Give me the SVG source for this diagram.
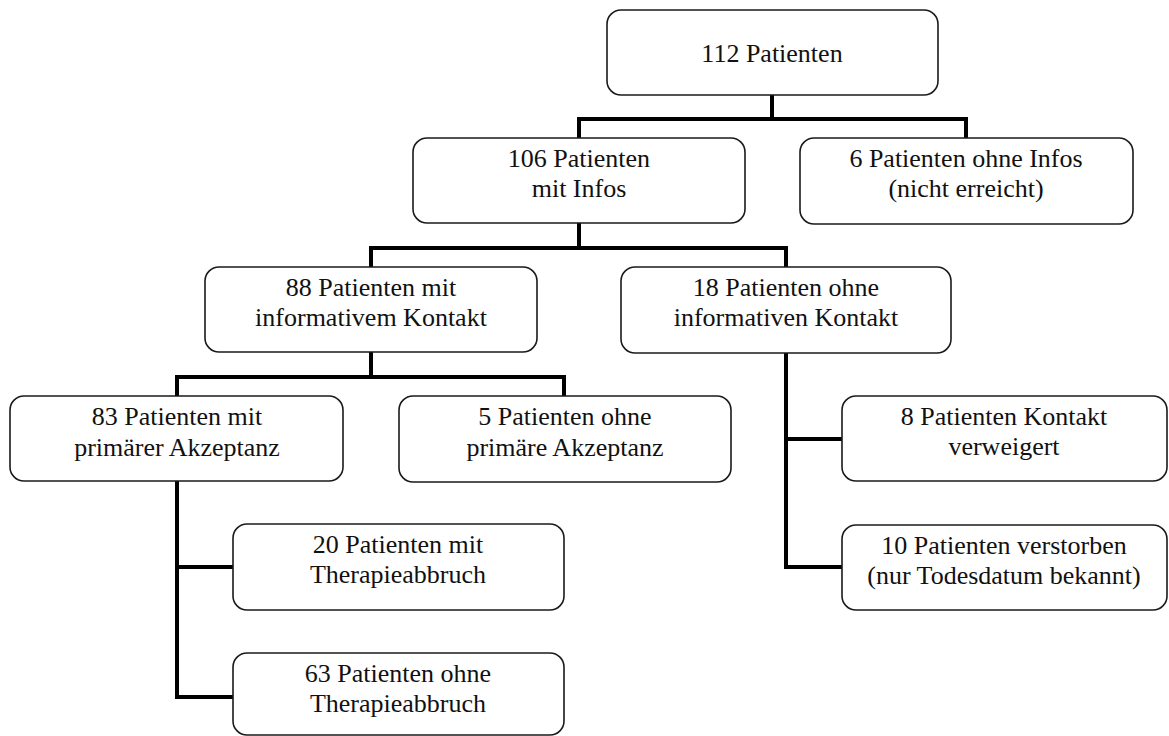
<svg xmlns="http://www.w3.org/2000/svg" width="1169" height="736" viewBox="0 0 1169 736">
<style>
.box{fill:#fff;stroke:#1a1a1a;stroke-width:1.6}
.t{font-size:26px;fill:#111;text-anchor:middle}
.c{fill:none;stroke:#000;stroke-width:4;stroke-linecap:square;stroke-linejoin:miter}
</style>
<rect width="1169" height="736" fill="#fff"/>
<g id="connectors">
<path class="c" d="M772 95V119M579 138V119H966V138"/>
<path class="c" d="M579 223V248M371 267V248H786V267"/>
<path class="c" d="M371 352V377M177 396V377H564V396"/>
<path class="c" d="M177 481V697H233M177 567H233"/>
<path class="c" d="M786 353V567H842M786 439H842"/>
</g>
<g font-family="Liberation Serif, Times New Roman, serif">
<g id="n112">
<rect class="box" x="607" y="10" width="331" height="85" rx="14"/>
<text class="t" x="772" y="62">112 Patienten</text>
</g>
<g id="n106">
<rect class="box" x="413" y="138" width="332" height="85" rx="14"/>
<text class="t" x="579" y="167">106 Patienten</text>
<text class="t" x="579" y="197">mit Infos</text>
</g>
<g id="n6">
<rect class="box" x="800" y="138" width="333" height="86" rx="14"/>
<text class="t" x="966" y="167">6 Patienten ohne Infos</text>
<text class="t" x="966" y="197">(nicht erreicht)</text>
</g>
<g id="n88">
<rect class="box" x="205" y="267" width="332" height="85" rx="14"/>
<text class="t" x="371" y="296">88 Patienten mit</text>
<text class="t" x="371" y="326">informativem Kontakt</text>
</g>
<g id="n18">
<rect class="box" x="621" y="267" width="330" height="86" rx="14"/>
<text class="t" x="786" y="296">18 Patienten ohne</text>
<text class="t" x="786" y="326">informativen Kontakt</text>
</g>
<g id="n83">
<rect class="box" x="10" y="396" width="333" height="85" rx="14"/>
<text class="t" x="177" y="425">83 Patienten mit</text>
<text class="t" x="177" y="456">primärer Akzeptanz</text>
</g>
<g id="n5">
<rect class="box" x="399" y="396" width="332" height="86" rx="14"/>
<text class="t" x="565" y="425">5 Patienten ohne</text>
<text class="t" x="565" y="456">primäre Akzeptanz</text>
</g>
<g id="n8">
<rect class="box" x="842" y="396" width="325" height="85" rx="14"/>
<text class="t" x="1004" y="425">8 Patienten Kontakt</text>
<text class="t" x="1004" y="455">verweigert</text>
</g>
<g id="n20">
<rect class="box" x="233" y="524" width="331" height="86" rx="14"/>
<text class="t" x="398" y="553">20 Patienten mit</text>
<text class="t" x="398" y="583">Therapieabbruch</text>
</g>
<g id="n10">
<rect class="box" x="842" y="525" width="325" height="85" rx="14"/>
<text class="t" x="1004" y="554">10 Patienten verstorben</text>
<text class="t" x="1004" y="584">(nur Todesdatum bekannt)</text>
</g>
<g id="n63">
<rect class="box" x="233" y="653" width="331" height="82" rx="14"/>
<text class="t" x="398" y="682">63 Patienten ohne</text>
<text class="t" x="398" y="712">Therapieabbruch</text>
</g>
</g>
</svg>
